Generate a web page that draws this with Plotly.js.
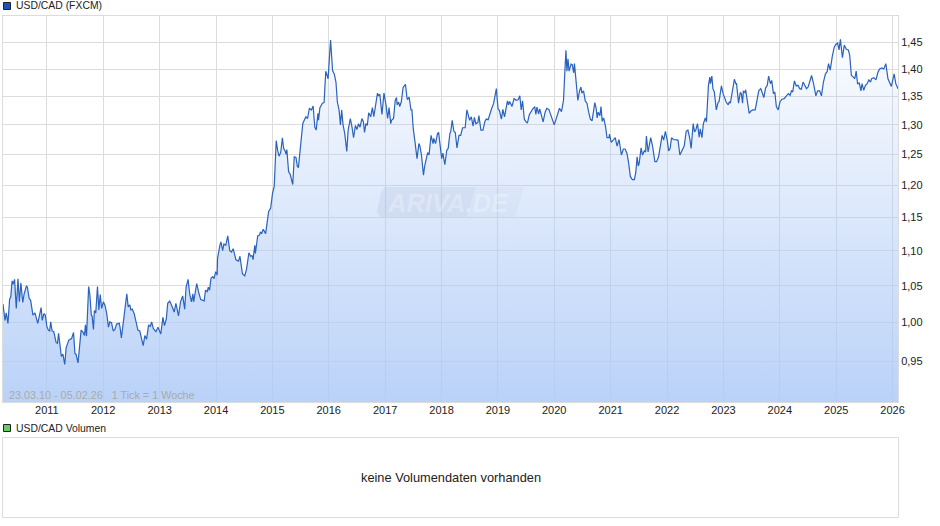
<!DOCTYPE html>
<html><head><meta charset="utf-8">
<script src="https://cdn.plot.ly/plotly-3.0.1.min.js"></script>
<style>html,body{margin:0;padding:0;background:#fff}#c{width:940px;height:526px}</style>
</head><body><div id="c"></div>
<script>
const years=[2010.22,2010.26,2010.28,2010.31,2010.34,2010.36,2010.385,2010.40,2010.43,2010.46,2010.49,2010.515,2010.54,2010.575,2010.60,2010.64,2010.655,2010.685,2010.715,2010.755,2010.79,2010.84,2010.90,2010.92,2010.95,2010.975,
2011.0,2011.03,2011.05,2011.07,2011.095,2011.125,2011.165,2011.19,2011.21,2011.23,2011.26,2011.285,2011.32,2011.345,2011.39,2011.44,2011.475,2011.50,2011.52,2011.555,2011.60,2011.61,2011.645,2011.67,2011.685,2011.705,2011.745,2011.765,2011.79,2011.805,2011.83,2011.845,2011.87,2011.90,2011.925,2011.95,2011.975,
2012.005,2012.035,2012.065,2012.095,2012.12,2012.15,2012.18,2012.21,2012.24,2012.285,2012.30,2012.325,2012.36,2012.385,2012.42,2012.445,2012.47,2012.49,2012.515,2012.55,2012.585,2012.615,2012.65,2012.68,2012.71,2012.74,2012.77,2012.805,2012.835,2012.86,2012.89,2012.935,2012.97,
2013.02,2013.06,2013.085,2013.12,2013.145,2013.18,2013.225,2013.26,2013.29,2013.335,2013.37,2013.41,2013.445,2013.47,2013.505,2013.535,2013.565,2013.59,2013.605,2013.645,2013.66,2013.70,2013.73,2013.77,2013.79,2013.815,2013.845,2013.865,2013.885,2013.915,2013.945,2013.965,2013.995,
2014.02,2014.03,2014.07,2014.09,2014.12,2014.14,2014.175,2014.21,2014.245,2014.275,2014.305,2014.355,2014.40,2014.425,2014.47,2014.51,2014.545,2014.585,2014.615,2014.64,2014.66,2014.69,2014.70,2014.74,2014.77,2014.79,2014.81,2014.84,2014.88,2014.91,2014.935,2014.97,
2015.005,2015.035,2015.055,2015.07,2015.095,2015.12,2015.15,2015.18,2015.20,2015.225,2015.245,2015.26,2015.29,2015.32,2015.363,2015.39,2015.42,2015.445,2015.465,2015.495,2015.51,2015.54,2015.57,2015.595,2015.625,2015.66,2015.695,2015.725,2015.755,2015.78,2015.81,2015.82,2015.845,2015.89,2015.92,2015.95,2015.99,
2016.035,2016.07,2016.10,2016.13,2016.155,2016.185,2016.21,2016.23,2016.255,2016.285,2016.32,2016.345,2016.385,2016.415,2016.44,2016.475,2016.50,2016.53,2016.555,2016.59,2016.615,2016.635,2016.66,2016.685,2016.71,2016.745,2016.775,2016.80,2016.83,2016.865,2016.88,2016.905,2016.945,2016.98,
2017.015,2017.045,2017.07,2017.10,2017.115,2017.15,2017.18,2017.20,2017.215,2017.24,2017.26,2017.285,2017.32,2017.36,2017.39,2017.40,2017.425,2017.46,2017.475,2017.50,2017.53,2017.565,2017.60,2017.615,2017.645,2017.68,2017.70,2017.74,2017.755,2017.78,2017.815,2017.85,2017.865,2017.895,2017.93,2017.95,2017.98,
2018.005,2018.025,2018.06,2018.095,2018.12,2018.15,2018.165,2018.19,2018.22,2018.245,2018.275,2018.31,2018.34,2018.375,2018.42,2018.45,2018.475,2018.50,2018.53,2018.56,2018.585,2018.61,2018.645,2018.665,2018.70,2018.735,2018.77,2018.795,2018.83,2018.86,2018.89,2018.925,2018.96,2018.975,
2019.005,2019.03,2019.065,2019.09,2019.12,2019.15,2019.17,2019.19,2019.21,2019.25,2019.29,2019.325,2019.36,2019.39,2019.415,2019.44,2019.47,2019.495,2019.525,2019.56,2019.595,2019.63,2019.655,2019.675,2019.695,2019.725,2019.745,2019.775,2019.805,2019.84,2019.87,2019.905,2019.94,2019.97,
2020.0,2020.035,2020.07,2020.095,2020.13,2020.165,2020.19,2020.21,2020.225,2020.245,2020.265,2020.30,2020.32,2020.345,2020.36,2020.39,2020.42,2020.45,2020.475,2020.49,2020.52,2020.55,2020.58,2020.61,2020.64,2020.67,2020.70,2020.72,2020.745,2020.76,2020.78,2020.81,2020.83,2020.85,2020.875,2020.91,2020.935,2020.97,2020.98,
2021.01,2021.055,2021.08,2021.115,2021.15,2021.19,2021.225,2021.255,2021.29,2021.32,2021.35,2021.385,2021.42,2021.445,2021.47,2021.49,2021.505,2021.54,2021.565,2021.60,2021.62,2021.635,2021.665,2021.71,2021.745,2021.785,2021.815,2021.85,2021.885,2021.915,2021.94,2021.97,
2022.005,2022.03,2022.055,2022.08,2022.115,2022.16,2022.195,2022.23,2022.27,2022.305,2022.34,2022.37,2022.40,2022.43,2022.465,2022.49,2022.51,2022.54,2022.57,2022.59,2022.62,2022.645,2022.68,2022.70,2022.735,2022.76,2022.77,2022.795,2022.815,2022.84,2022.875,2022.905,2022.925,2022.965,2022.995,
2023.03,2023.05,2023.085,2023.105,2023.125,2023.155,2023.195,2023.22,2023.235,2023.27,2023.30,2023.32,2023.34,2023.355,2023.385,2023.395,2023.43,2023.46,2023.49,2023.525,2023.565,2023.605,2023.63,2023.665,2023.695,2023.72,2023.75,2023.78,2023.805,2023.835,2023.86,2023.89,2023.915,2023.94,2023.975,
2024.005,2024.04,2024.08,2024.12,2024.155,2024.185,2024.21,2024.23,2024.26,2024.295,2024.325,2024.355,2024.385,2024.415,2024.445,2024.475,2024.505,2024.54,2024.565,2024.60,2024.64,2024.67,2024.71,2024.74,2024.775,2024.81,2024.84,2024.865,2024.895,2024.93,2024.965,2024.995,
2025.025,2025.05,2025.075,2025.11,2025.145,2025.18,2025.215,2025.24,2025.27,2025.305,2025.33,2025.355,2025.38,2025.41,2025.44,2025.46,2025.49,2025.52,2025.55,2025.58,2025.61,2025.63,2025.67,2025.705,2025.74,2025.77,2025.81,2025.845,2025.88,2025.92,2025.95,2025.98,
2026.03,2026.06,2026.096];
const rates=[1.025,1.003,1.013,0.999,1.032,1.034,1.057,1.052,1.059,1.019,1.060,1.028,1.054,1.027,1.039,1.05,1.048,1.033,1.03,1.01,1.013,0.999,1.02,1.003,1.012,1.01,
0.995,0.99,0.989,1.001,0.989,0.988,0.974,0.973,0.986,0.975,0.956,0.959,0.946,0.967,0.977,0.979,0.987,0.96,0.959,0.948,0.98,0.99,0.987,0.983,0.997,0.982,1.049,1.037,1.01,1.009,0.991,1.016,1.013,1.049,1.017,1.038,1.019,
1.028,1.023,1.012,0.994,1.001,1.0,0.989,0.991,0.998,0.999,0.994,0.98,1.001,1.021,1.039,1.021,1.024,1.017,1.018,1.012,1.0,0.99,0.989,0.98,0.97,0.983,0.978,0.997,0.995,1.001,0.992,0.988,0.994,
0.985,1.007,0.996,1.005,1.026,1.029,1.021,1.014,1.026,1.009,1.028,1.036,1.018,1.048,1.059,1.038,1.028,1.039,1.028,1.048,1.053,1.039,1.031,1.03,1.029,1.044,1.042,1.048,1.044,1.061,1.063,1.06,1.07,
1.065,1.089,1.108,1.113,1.10,1.11,1.108,1.122,1.10,1.098,1.103,1.087,1.085,1.092,1.067,1.064,1.074,1.097,1.092,1.093,1.087,1.108,1.096,1.122,1.123,1.128,1.125,1.132,1.125,1.142,1.159,1.164,
1.187,1.198,1.236,1.273,1.257,1.247,1.253,1.278,1.26,1.256,1.25,1.258,1.222,1.217,1.201,1.246,1.245,1.23,1.229,1.255,1.266,1.302,1.309,1.314,1.311,1.329,1.326,1.333,1.296,1.291,1.32,1.308,1.33,1.338,1.339,1.396,1.382,
1.455,1.397,1.391,1.376,1.34,1.326,1.30,1.326,1.30,1.285,1.255,1.291,1.311,1.296,1.278,1.299,1.292,1.302,1.296,1.311,1.305,1.287,1.302,1.299,1.321,1.314,1.33,1.314,1.338,1.356,1.351,1.354,1.318,1.356,
1.335,1.311,1.33,1.302,1.308,1.311,1.343,1.348,1.335,1.34,1.332,1.34,1.366,1.372,1.346,1.345,1.349,1.326,1.326,1.293,1.271,1.243,1.268,1.265,1.249,1.216,1.23,1.252,1.253,1.249,1.282,1.268,1.277,1.268,1.285,1.287,1.263,
1.243,1.252,1.233,1.257,1.26,1.285,1.289,1.308,1.289,1.287,1.261,1.282,1.282,1.295,1.295,1.326,1.318,1.308,1.314,1.298,1.313,1.302,1.304,1.316,1.291,1.291,1.306,1.31,1.309,1.32,1.328,1.337,1.362,1.364,
1.328,1.325,1.31,1.327,1.314,1.334,1.342,1.335,1.341,1.332,1.346,1.343,1.344,1.351,1.326,1.342,1.31,1.306,1.303,1.318,1.324,1.329,1.331,1.318,1.331,1.319,1.328,1.316,1.305,1.322,1.329,1.327,1.316,1.308,
1.30,1.31,1.324,1.329,1.323,1.343,1.396,1.435,1.396,1.419,1.396,1.409,1.408,1.393,1.41,1.379,1.343,1.36,1.367,1.356,1.36,1.342,1.338,1.322,1.31,1.307,1.325,1.339,1.328,1.312,1.322,1.316,1.332,1.306,1.312,1.296,1.278,1.278,1.284,
1.27,1.275,1.278,1.264,1.275,1.249,1.259,1.259,1.252,1.236,1.214,1.209,1.209,1.22,1.246,1.231,1.235,1.261,1.249,1.256,1.254,1.281,1.254,1.278,1.264,1.238,1.238,1.246,1.266,1.282,1.274,1.289,
1.274,1.256,1.26,1.278,1.275,1.275,1.274,1.249,1.257,1.264,1.289,1.291,1.278,1.26,1.302,1.288,1.291,1.302,1.279,1.293,1.278,1.302,1.312,1.305,1.37,1.385,1.373,1.387,1.364,1.358,1.326,1.339,1.341,1.369,1.355,
1.343,1.34,1.335,1.34,1.338,1.36,1.381,1.373,1.373,1.338,1.357,1.355,1.338,1.359,1.357,1.362,1.338,1.32,1.324,1.326,1.326,1.346,1.36,1.364,1.355,1.348,1.365,1.37,1.387,1.373,1.379,1.355,1.358,1.332,1.326,
1.34,1.345,1.346,1.351,1.355,1.352,1.36,1.358,1.378,1.369,1.37,1.364,1.363,1.376,1.371,1.364,1.367,1.38,1.388,1.373,1.351,1.36,1.36,1.351,1.376,1.391,1.395,1.41,1.398,1.423,1.441,1.447,
1.449,1.436,1.456,1.421,1.445,1.437,1.436,1.426,1.388,1.385,1.382,1.396,1.373,1.374,1.36,1.373,1.361,1.37,1.373,1.38,1.376,1.382,1.384,1.38,1.394,1.40,1.402,1.40,1.41,1.382,1.376,1.368,
1.391,1.373,1.364];
const yTickVals=[0.95,1.0,1.05,1.1,1.15,1.2,1.25,1.3,1.35,1.4,1.45];
const yTickText=['0,95','1,00','1,05','1,10','1,15','1,20','1,25','1,30','1,35','1,40','1,45'];
const xTickYears=[2011,2012,2013,2014,2015,2016,2017,2018,2019,2020,2021,2022,2023,2024,2025,2026];
const yMin=0.9,yMax=1.502;
const startDate='2010-03-23',endDate='2026-02-05';

const W=940,H=526,L=3,R=898,T=16,B=402;
const px=x=>(x-L)/(R-L), py=y=>(B-y)/(B-T);
function toDate(d){const Y=Math.floor(d);const s=Date.UTC(Y,0,1),e=Date.UTC(Y+1,0,1);
  return new Date(s+(d-Y)*(e-s)).toISOString().slice(0,10);}
const n=Math.min(years.length,rates.length);
const dates=years.slice(0,n).map(toDate);dates[0]=startDate;dates[n-1]=endDate;
const vals=rates.slice(0,n);

const rect=(x0,y0,x1,y1,fill,line,w)=>({type:'rect',xref:'paper',yref:'paper',x0:px(x0),x1:px(x1),y0:py(y1),y1:py(y0),
  fillcolor:fill,line:{color:line,width:w},layer:'above'});
const poly=(pts,fill)=>({type:'path',xref:'paper',yref:'paper',layer:'above',fillcolor:fill,line:{width:0},
  path:pts.map((p,i)=>(i?'L':'M')+px(p[0])+' '+py(p[1])).join(' ')+' Z'});
const note=(x,y,text,size,color,anchor,extra)=>Object.assign({xref:'paper',yref:'paper',x:px(x),y:py(y),text,showarrow:false,
  xanchor:anchor,yanchor:'middle',borderpad:0,font:{size,color,family:'"Liberation Sans",Arial,sans-serif'}},extra||{});

const layout={width:W,height:H,margin:{l:L,r:W-R,t:T,b:H-B,pad:0},paper_bgcolor:'#fff',plot_bgcolor:'#fff',showlegend:false,
  font:{family:'"Liberation Sans",Arial,sans-serif',size:11,color:'#222'},
  xaxis:{type:'date',range:[startDate,endDate],tickmode:'array',tickvals:xTickYears.map(y=>y+'-01-01'),ticktext:xTickYears.map(String),
    showgrid:true,gridcolor:'#dcdcdc',gridwidth:1,zeroline:false,showline:true,linecolor:'#dcdcdc',linewidth:1,mirror:true,ticks:'',tickangle:0,
    ticklabelstandoff:-2,tickfont:{size:11,color:'#222'}},
  yaxis:{type:'log',side:'right',range:[Math.log10(yMin),Math.log10(yMax)],tickmode:'array',tickvals:yTickVals,ticktext:yTickText,
    showgrid:true,gridcolor:'#dcdcdc',gridwidth:1,zeroline:false,showline:true,linecolor:'#dcdcdc',linewidth:1,mirror:true,ticks:'',
    tickfont:{size:11,color:'#222'}},
  shapes:[
    rect(3.5,2.5,10.5,9.5,'#1a56b8','#222',1),
    rect(3.5,424.5,10.5,431.5,'#66cc66','#222',1),
    rect(2.5,437.5,898.5,517.5,'#fff','#dcdcdc',1),
    poly([[385,187],[476,187],[466,217],[380,217],[377,212],[381,192]],'rgba(120,140,180,0.12)'),
    poly([[476,187],[524,187],[515,217],[466,217]],'rgba(120,140,180,0.05)')
  ],
  annotations:[
    note(15,5.5,'USD/CAD (FXCM)',10.4,'#222','left'),
    note(15,428,'USD/CAD Volumen',10.4,'#222','left'),
    note(451,477.5,'keine Volumendaten vorhanden',12.8,'#222','center'),
    note(8,395,'23.03.10 - 05.02.26 &nbsp; 1 Tick = 1 Woche',10.8,'#aaa','left'),
    note(448,203,'<b><i>ARIVA.DE</i></b>',25.5,'rgba(255,255,255,0.28)','center')
  ]};
const data=[{type:'scatter',mode:'lines',x:dates,y:vals,line:{color:'#2a62bd',width:1.2},fill:'tozeroy',
  fillgradient:{type:'vertical',start:yMax,stop:yMin,colorscale:[[0,'rgba(174,202,247,0)'],[1,'rgba(174,202,247,0.85)']]},
  hoverinfo:'skip'}];
Plotly.newPlot('c',data,layout,{staticPlot:true,displayModeBar:false});
</script></body></html>
